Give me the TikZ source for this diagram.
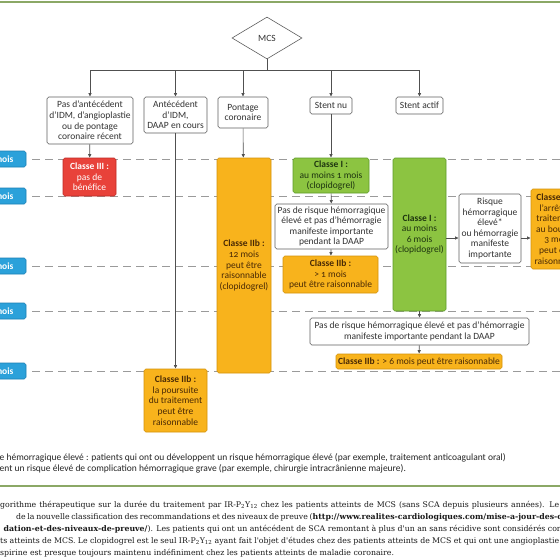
\documentclass[tikz,border=0pt]{standalone}
\usepackage{fontspec}
\setmainfont{Carlito}[Numbers=OldStyle]
\newfontfamily\capfont{DejaVu Serif}
\usetikzlibrary{shapes.geometric,arrows.meta}
\definecolor{orfill}{HTML}{F8B31C}
\definecolor{ordraw}{HTML}{D4920A}
\definecolor{ortext}{HTML}{4A2A05}
\definecolor{grfill}{HTML}{8CC441}
\definecolor{grdraw}{HTML}{5E9A2A}
\definecolor{grtext}{HTML}{1E3510}
\definecolor{rdfill}{HTML}{E8423A}
\definecolor{rddraw}{HTML}{C02A25}
\definecolor{blfill}{HTML}{2BA1DA}
\definecolor{bldraw}{HTML}{1A7FB5}
\definecolor{rulec}{HTML}{8BA866}
\definecolor{lnc}{HTML}{505050}
\definecolor{dashc}{HTML}{9A9A9A}
\definecolor{boxd}{HTML}{5E5E5E}
\newcommand{\dfont}{\fontsize{9.5}{10.6}\selectfont}
\newcommand{\cfont}{\capfont\fontsize{7.8}{9}\selectfont}
\begin{document}
\begin{tikzpicture}[x=1pt,y=-1pt,
 base/.style={rounded corners=1.8pt, align=center, inner sep=0pt, font=\dfont, line width=0.6pt},
 wbox/.style={base, draw=boxd, fill=white, text=black!80},
 obox/.style={base, draw=ordraw, fill=orfill, text=ortext},
 gbox/.style={base, draw=grdraw, fill=grfill, text=grtext},
 rbox/.style={base, draw=rddraw, fill=rdfill, text=white},
 blab/.style={base, draw=bldraw, fill=blfill, text=white, font=\dfont\bfseries, minimum height=16pt, minimum width=44pt},
 sz/.style 2 args={minimum width=#1pt, minimum height=#2pt},
 conn/.style={draw=lnc, line width=0.6pt},
 arr/.style={conn, -{Latex[length=3.5pt,width=3.5pt]}},
 dsh/.style={draw=dashc, line width=0.8pt, dash pattern=on 8pt off 5pt},
 rul/.style={draw=rulec},
 foot/.style={anchor=base west, inner sep=0pt, font=\dfont, text=black!85},
 captxt/.style={anchor=base west, inner sep=0pt, font=\cfont, text=black!90},
]
\clip (0,0) rectangle (560,560);
\fill[white] (0,0) rectangle (560,560);

% rules
\draw[rul, line width=2pt] (0,1.5) -- (560,1.5);
\draw[rul, line width=1.5pt] (0,486) -- (560,486);

% dashed time lines
\foreach \yy in {159,196,266,311,371} \draw[dsh] (32,\yy) -- (560,\yy);

% time labels (cut at left edge)
\node[blab] (l1) at (4,159) {mois};
\node[blab] (l2) at (4,196) {mois};
\node[blab] (l3) at (4,266) {mois};
\node[blab] (l4) at (4,311) {mois};
\node[blab] (l5) at (4,371) {mois};

% top decision
\node[draw=boxd, diamond, minimum width=70pt, minimum height=42pt, inner sep=0pt, line width=0.6pt, font=\dfont, text=black!80] (mcs) at (267,38) {MCS};

% first row
\node[wbox, sz={86}{47}] (A) at (90,120.5) {Pas d'antécédent\\d'IDM, d'angioplastie\\ou de pontage\\coronaire récent};
\node[wbox, sz={63}{36}] (B) at (175.5,115) {Antécédent\\d'IDM,\\DAAP en cours};
\node[wbox, sz={50}{31}] (C) at (243,112.5) {Pontage\\coronaire};
\node[wbox, sz={42}{17}] (D) at (331,105.5) {Stent nu};
\node[wbox, sz={47}{17}] (E) at (419.5,105.5) {Stent actif};

% results
\node[rbox, sz={53}{38}] (R) at (89.5,177) {\textbf{Classe III :}\\pas de\\bénéfice};
\node[obox, sz={63}{63}] (B2) at (175.5,400.5) {\textbf{Classe IIb :}\\la poursuite\\du traitement\\peut être\\raisonnable};
\node[obox, sz={54}{215}] (C2) at (244,265.5) {\textbf{Classe IIb :}\\12 mois\\peut être\\raisonnable\\(clopidogrel)};
\node[gbox, sz={76}{35}] (D2) at (331,175.5) {\textbf{Classe I :}\\au moins 1 mois\\(clopidogrel)};
\node[wbox, sz={113}{45}] (D3) at (331.5,226.5) {Pas de risque hémorragique\\élevé et pas d'hémorragie\\manifeste importante\\pendant la DAAP};
\node[obox, sz={95}{37}] (D4) at (330.5,274.5) {\textbf{Classe IIb :}\\> 1 mois\\peut être raisonnable};
\node[gbox, sz={53}{153}] (E2) at (419.5,234.5) {\textbf{Classe I :}\\au moins\\6 mois\\(clopidogrel)};
\node[wbox, sz={219}{27}] (E3) at (419.5,331.5) {Pas de risque hémorragique élevé et pas d'hémorragie\\manifeste importante pendant la DAAP};
\node[obox, sz={166}{15}] (E4) at (419,361.5) {\textbf{Classe IIb :} > 6 mois peut être raisonnable};
\node[wbox, sz={62}{69}] (F) at (490,228.5) {Risque\\hémorragique\\élevé*\\ou hémorragie\\manifeste\\importante};
\node[obox, sz={52}{80}] (G) at (557,229) {\textbf{Classe IIb :}\\l'arrêt du\\traitement\\au bout de\\3 mois\\peut être\\raisonnable};

% connectors
\coordinate (bus) at (267,70);
\coordinate (side) at (0,238);
\draw[conn] (mcs.south) -- (bus);
\draw[conn] (A.north |- bus) -- (E.north |- bus);
\foreach \n in {A,B,C,D,E} \draw[arr] (\n.north |- bus) -- (\n.north);
\draw[arr] (A) -- (R);
\draw[arr] (B) -- (B2);
\draw[arr] (C) -- (C2);
\draw[arr] (D) -- (D2);
\draw[arr] (D2) -- (D3);
\draw[arr] (D3) -- (D4);
\draw[arr] (E2) -- (E3);
\draw[arr] (E3) -- (E4);
\draw[arr] (E2.east |- side) -- (F.west |- side);
\draw[arr] (F.east |- side) -- (G.west |- side);

% footnote
\node[foot] (f1) at (-0.5,460) {e hémorragique élevé : patients qui ont ou développent un risque hémorragique élevé (par exemple, traitement anticoagulant oral)};
\node[foot] (f2) at (-0.5,471) {ent un risque élevé de complication hémorragique grave (par exemple, chirurgie intracrânienne majeure).};

% caption
\node[captxt] (c1) at (0,507.5) {\makebox[559pt][s]{gorithme thérapeutique sur la durée du traitement par IR-P\textsubscript{2}Y\textsubscript{12} chez les patients atteints de MCS (sans SCA depuis plusieurs années). Le}};
\node[captxt] (c2) at (16,519.5) {\makebox[546pt][s]{de la nouvelle classification des recommandations et des niveaux de preuve (\textbf{http://www.realites-cardiologiques.com/mise-a-jour-des-c}}};
\node[captxt] (c3) at (3.5,531.5) {\makebox[557pt][s]{\textbf{dation-et-des-niveaux-de-preuve/}). Les patients qui ont un antécédent de SCA remontant à plus d'un an sans récidive sont considérés cor}};
\node[captxt] (c4) at (0,543.5) {\makebox[559pt][s]{ts atteints de MCS. Le clopidogrel est le seul IR-P\textsubscript{2}Y\textsubscript{12} ayant fait l'objet d'études chez des patients atteints de MCS et qui ont une angioplastie}};
\node[captxt] (c5) at (0,555) {spirine est presque toujours maintenu indéfiniment chez les patients atteints de maladie coronaire.};
\end{tikzpicture}
\end{document}
